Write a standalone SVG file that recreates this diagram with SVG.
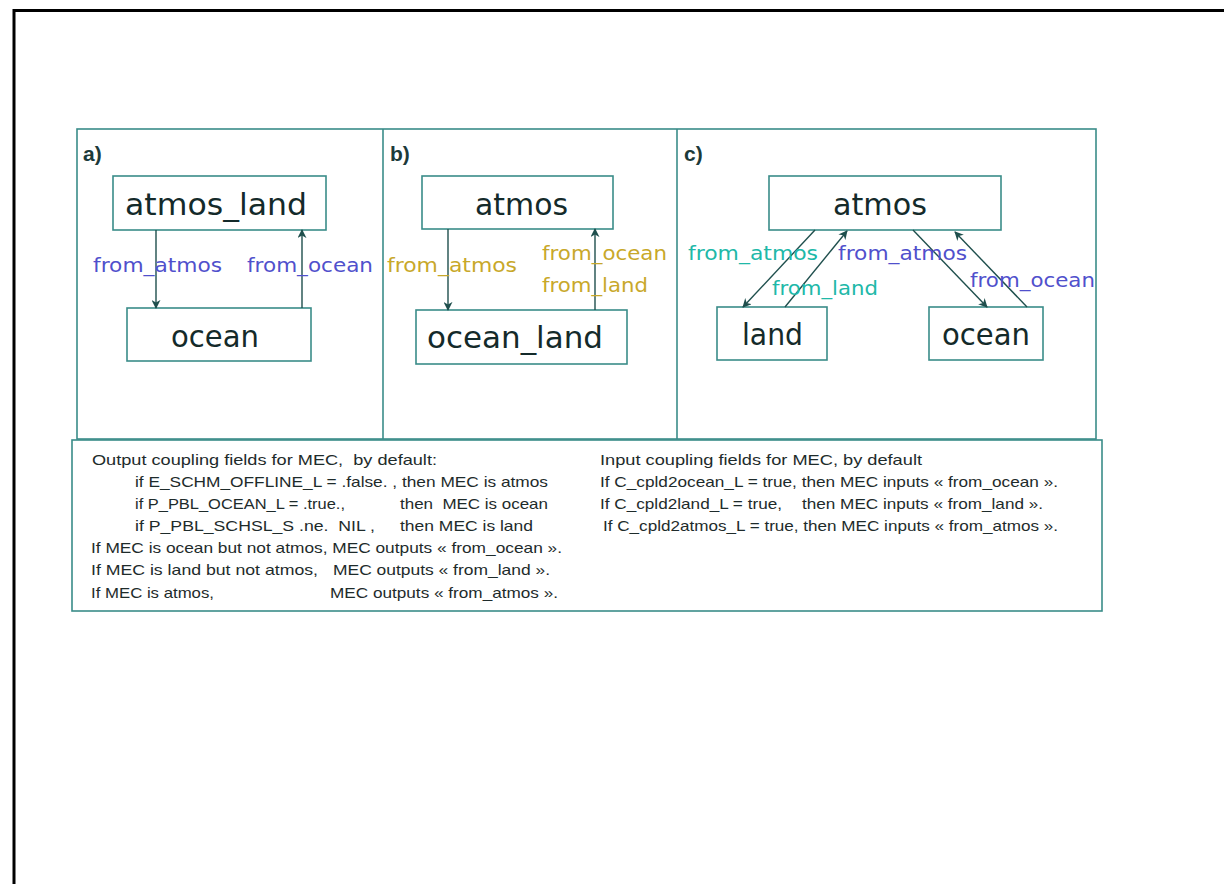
<svg xmlns="http://www.w3.org/2000/svg" width="1224" height="884" viewBox="0 0 1224 884">
<defs>
<marker id="ah" viewBox="0 0 10 10" refX="9" refY="5" markerWidth="9" markerHeight="9" markerUnits="userSpaceOnUse" orient="auto">
<path d="M0,0 L10,5 L0,10 L3,5 Z" fill="#1f4f4d"/>
</marker>
</defs>
<style>
.frame{fill:none;stroke:#3a8c89;stroke-width:1.6}
.node{fill:#ffffff;stroke:#3a8c89;stroke-width:1.6}
.ntxt{font-family:"DejaVu Sans",sans-serif;font-size:30px;fill:#142a2a}
.plab{font-family:"Liberation Sans",sans-serif;font-weight:bold;font-size:21px;fill:#1c3a3a}
.lab{font-family:"DejaVu Sans",sans-serif;font-size:19px}
.blue{fill:#5050cc}
.gold{fill:#c8a82a}
.teal{fill:#20b8a8}
.conn{stroke:#1f4f4d;stroke-width:1.4;fill:none;marker-end:url(#ah)}
.bt{font-family:"Liberation Sans",sans-serif;font-size:14.5px;fill:#1e2b2b;white-space:pre}
</style>
<path d="M14,884 V10.5 H1224" fill="none" stroke="#000" stroke-width="3"/>
<g id="panels">
<rect class="frame" x="77" y="129" width="1019" height="310"/>
<line class="frame" x1="383" y1="129" x2="383" y2="439"/>
<line class="frame" x1="677" y1="129" x2="677" y2="439"/>
<text class="plab" x="83" y="161">a)</text>
<text class="plab" x="390" y="161">b)</text>
<text class="plab" x="684" y="161">c)</text>
</g>
<g id="a_atmos_land">
<rect class="node" x="113" y="176" width="213" height="54"/>
<text class="ntxt" x="125" y="215" textLength="182" lengthAdjust="spacingAndGlyphs">atmos_land</text>
</g>
<g id="a_ocean">
<rect class="node" x="127" y="308" width="184" height="53"/>
<text class="ntxt" x="171" y="347" textLength="88" lengthAdjust="spacingAndGlyphs">ocean</text>
</g>
<g id="b_atmos">
<rect class="node" x="422" y="176" width="191" height="53"/>
<text class="ntxt" x="475" y="215" textLength="93" lengthAdjust="spacingAndGlyphs">atmos</text>
</g>
<g id="b_ocean_land">
<rect class="node" x="416" y="310" width="211" height="54"/>
<text class="ntxt" x="427" y="348" textLength="176" lengthAdjust="spacingAndGlyphs">ocean_land</text>
</g>
<g id="c_atmos">
<rect class="node" x="769" y="176" width="232" height="54"/>
<text class="ntxt" x="833" y="215" textLength="94" lengthAdjust="spacingAndGlyphs">atmos</text>
</g>
<g id="c_land">
<rect class="node" x="717" y="307" width="110" height="53"/>
<text class="ntxt" x="742" y="345" textLength="61" lengthAdjust="spacingAndGlyphs">land</text>
</g>
<g id="c_ocean">
<rect class="node" x="929" y="307" width="114" height="53"/>
<text class="ntxt" x="942" y="345" textLength="88" lengthAdjust="spacingAndGlyphs">ocean</text>
</g>
<g id="connectors">
<line class="conn" x1="156" y1="230" x2="156" y2="308"/>
<line class="conn" x1="302" y1="308" x2="302" y2="230"/>
<line class="conn" x1="448" y1="229" x2="448" y2="310"/>
<line class="conn" x1="595" y1="310" x2="595" y2="229"/>
<line class="conn" x1="815" y1="230" x2="743" y2="307"/>
<line class="conn" x1="785" y1="307" x2="847" y2="231"/>
<line class="conn" x1="913" y1="230" x2="987" y2="307"/>
<line class="conn" x1="1027" y1="307" x2="955" y2="232"/>
</g>
<g id="labels">
<text class="lab blue" x="93" y="272" textLength="129" lengthAdjust="spacingAndGlyphs">from_atmos</text>
<text class="lab blue" x="247" y="272" textLength="126" lengthAdjust="spacingAndGlyphs">from_ocean</text>
<text class="lab gold" x="387" y="272" textLength="130" lengthAdjust="spacingAndGlyphs">from_atmos</text>
<text class="lab gold" x="542" y="260" textLength="125" lengthAdjust="spacingAndGlyphs">from_ocean</text>
<text class="lab gold" x="542" y="292" textLength="106" lengthAdjust="spacingAndGlyphs">from_land</text>
<text class="lab teal" x="688" y="260" textLength="130" lengthAdjust="spacingAndGlyphs">from_atmos</text>
<text class="lab teal" x="772" y="295" textLength="106" lengthAdjust="spacingAndGlyphs">from_land</text>
<text class="lab blue" x="838" y="260" textLength="129" lengthAdjust="spacingAndGlyphs">from_atmos</text>
<text class="lab blue" x="970" y="287" textLength="125" lengthAdjust="spacingAndGlyphs">from_ocean</text>
</g>
<g id="notes">
<rect class="frame" x="72" y="440" width="1030" height="171"/>
<text class="bt" x="92" y="465" textLength="345" lengthAdjust="spacingAndGlyphs">Output coupling fields for MEC,  by default:</text>
<text class="bt" x="135" y="487" textLength="413" lengthAdjust="spacingAndGlyphs">if E_SCHM_OFFLINE_L = .false. , then MEC is atmos</text>
<text class="bt" x="135" y="509" textLength="210" lengthAdjust="spacingAndGlyphs">if P_PBL_OCEAN_L = .true.,</text>
<text class="bt" x="400" y="509" textLength="148" lengthAdjust="spacingAndGlyphs">then  MEC is ocean</text>
<text class="bt" x="135" y="531" textLength="240" lengthAdjust="spacingAndGlyphs">if P_PBL_SCHSL_S .ne.  NIL ,</text>
<text class="bt" x="400" y="531" textLength="133" lengthAdjust="spacingAndGlyphs">then MEC is land</text>
<text class="bt" x="91" y="553" textLength="471" lengthAdjust="spacingAndGlyphs">If MEC is ocean but not atmos, MEC outputs « from_ocean ».</text>
<text class="bt" x="91" y="575" textLength="227" lengthAdjust="spacingAndGlyphs">If MEC is land but not atmos,</text>
<text class="bt" x="333" y="575" textLength="217" lengthAdjust="spacingAndGlyphs">MEC outputs « from_land ».</text>
<text class="bt" x="91" y="598" textLength="123" lengthAdjust="spacingAndGlyphs">If MEC is atmos,</text>
<text class="bt" x="330" y="598" textLength="228" lengthAdjust="spacingAndGlyphs">MEC outputs « from_atmos ».</text>
<text class="bt" x="600" y="465" textLength="322" lengthAdjust="spacingAndGlyphs">Input coupling fields for MEC, by default</text>
<text class="bt" x="600" y="487" textLength="458" lengthAdjust="spacingAndGlyphs">If C_cpld2ocean_L = true, then MEC inputs « from_ocean ».</text>
<text class="bt" x="600" y="509" textLength="182" lengthAdjust="spacingAndGlyphs">If C_cpld2land_L = true,</text>
<text class="bt" x="802" y="509" textLength="241" lengthAdjust="spacingAndGlyphs">then MEC inputs « from_land ».</text>
<text class="bt" x="603" y="531" textLength="455" lengthAdjust="spacingAndGlyphs">If C_cpld2atmos_L = true, then MEC inputs « from_atmos ».</text>
</g>
</svg>
